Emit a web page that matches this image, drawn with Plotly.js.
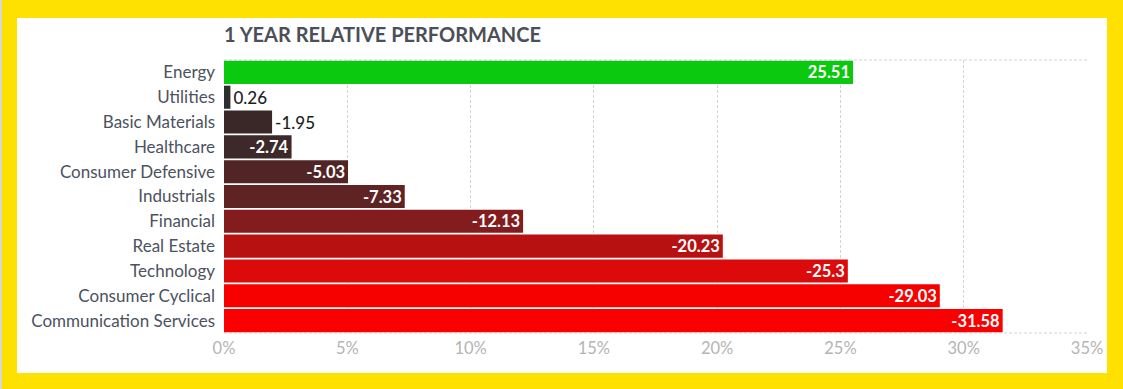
<!DOCTYPE html>
<html>
<head>
<meta charset="utf-8">
<script src="https://cdn.plot.ly/plotly-3.0.1.min.js"></script>
<style>
  html, body { margin: 0; padding: 0; width: 1123px; height: 389px; background: #ffe100; overflow: hidden; }
  #edge { position: absolute; left: 0; top: 0; width: 2px; height: 389px; background: #d8d8d0; }
  #chart { position: absolute; left: 17px; top: 18px; width: 1090px; height: 355px; background: #ffffff; }
</style>
</head>
<body>
<div id="edge"></div>
<div id="chart"></div>
<script>
const categories = ["Energy", "Utilities", "Basic Materials", "Healthcare", "Consumer Defensive",
  "Industrials", "Financial", "Real Estate", "Technology", "Consumer Cyclical", "Communication Services"];
const values = [25.51, 0.26, -1.95, -2.74, -5.03, -7.33, -12.13, -20.23, -25.3, -29.03, -31.58];
const valueLabels = ["25.51", "0.26", "-1.95", "-2.74", "-5.03", "-7.33", "-12.13", "-20.23", "-25.3", "-29.03", "-31.58"];
const barColors = ["#0bc90f", "#2b2f2f", "#3a2828", "#3d2929", "#512526", "#5f2324",
  "#831c1c", "#b81111", "#dc0a0a", "#f70000", "#fb0000"];
const labelPositions = ["inside", "outside", "outside", "inside", "inside", "inside",
  "inside", "inside", "inside", "inside", "inside"];
const xTickValues = [0, 5, 10, 15, 20, 25, 30, 35];

const trace = {
  type: "bar",
  orientation: "h",
  y: categories,
  x: values.map(v => Math.abs(v)),
  text: valueLabels,
  textposition: labelPositions,
  insidetextanchor: "end",
  textangle: 0,
  constraintext: "none",
  cliponaxis: false,
  insidetextfont: { family: "Lato", size: 16.5, color: "#ffffff", weight: "bold" },
  outsidetextfont: { family: "Lato", size: 17, color: "#1e1e1e", weight: 500 },
  marker: { color: barColors, line: { width: 0 } },
  hoverinfo: "none"
};

const layout = {
  width: 1090,
  height: 355,
  margin: { l: 207, r: 20, t: 42, b: 40 },
  paper_bgcolor: "#ffffff",
  plot_bgcolor: "#ffffff",
  showlegend: false,
  bargap: 0.07,
  title: {
    text: "1 YEAR RELATIVE PERFORMANCE",
    font: { family: "Lato", size: 20, color: "#4b4f58", weight: "bold" },
    x: 0, xref: "paper", xanchor: "left",
    y: 1 - 17 / 355, yref: "container", yanchor: "middle"
  },
  xaxis: {
    range: [0, 35],
    tickvals: xTickValues,
    ticktext: xTickValues.map(v => v + "%"),
    showgrid: true,
    gridcolor: "#d4d4d4",
    griddash: "3px,2px",
    gridwidth: 1,
    zeroline: false,
    showline: false,
    ticks: "",
    ticklabelstandoff: 3,
    tickfont: { family: "Lato", size: 16.5, color: "#b4b4b4" },
    fixedrange: true
  },
  yaxis: {
    autorange: "reversed",
    showgrid: false,
    zeroline: false,
    showline: false,
    ticks: "",
    ticklabelstandoff: 8,
    tickfont: { family: "Lato", size: 17, color: "#4b5260" },
    fixedrange: true
  },
  shapes: [
    { type: "line", xref: "paper", yref: "paper", x0: 0, x1: 1, y0: 1, y1: 1,
      line: { color: "#d4d4d4", width: 1, dash: "3px,2px" }, layer: "below" },
    { type: "line", xref: "paper", yref: "paper", x0: 0, x1: 1, y0: 0, y1: 0,
      line: { color: "#d4d4d4", width: 1, dash: "3px,2px" }, layer: "below" }
  ]
};

Plotly.newPlot("chart", [trace], layout, { displayModeBar: false, staticPlot: true });
</script>
</body>
</html>
